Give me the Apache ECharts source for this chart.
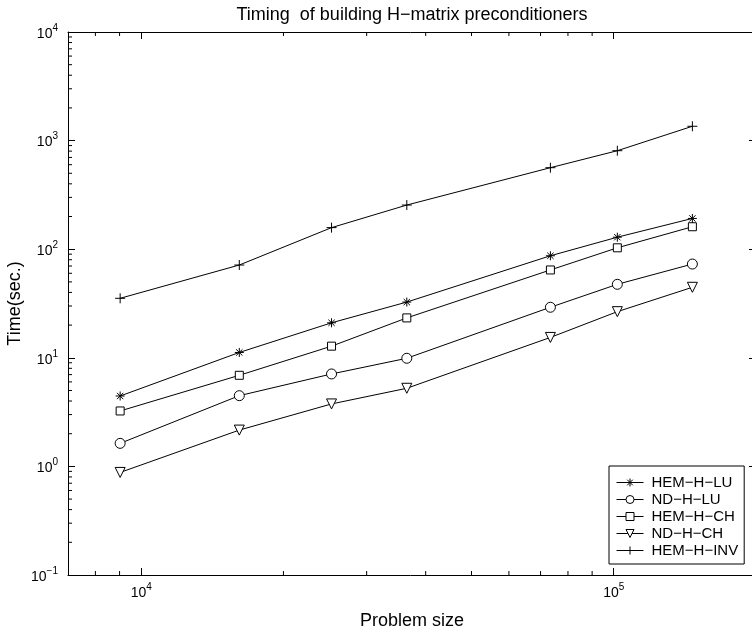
<!DOCTYPE html>
<html>
<head>
<meta charset="utf-8">
<script src="https://cdn.jsdelivr.net/npm/echarts@6/dist/echarts.min.js"></script>
<style>
  html, body { margin: 0; padding: 0; background: #fff; }
  #chart { width: 752px; height: 637px; }
</style>
</head>
<body>
<div id="chart"></div>
<script>
// problem sizes (x) and timings in seconds (y)
var problemSize = [9025, 16129, 25281, 36481, 73441, 101761, 146689];
var hemHLU  = [4.45, 11.2, 21.0, 32.6, 87, 129, 192];
var ndHLU   = [1.63, 4.48, 7.1, 9.9, 29.2, 47.5, 73];
var hemHCH  = [3.24, 6.9, 12.8, 23.3, 64.4, 103, 161];
var ndHCH   = [0.88, 2.16, 3.76, 5.24, 15.4, 26.6, 44.6];
var hemHINV = [35.3, 71.5, 158, 255, 563, 807, 1355];

var seriesNames = ['HEM\u2212H\u2212LU', 'ND\u2212H\u2212LU', 'HEM\u2212H\u2212CH', 'ND\u2212H\u2212CH', 'HEM\u2212H\u2212INV'];
var xRange = [7000, 200000];
var yRange = [0.1, 10000];
var xMinorTicks = [8000, 9000, 20000, 30000, 40000, 50000, 60000, 70000, 80000, 90000];
var yMinorTicks = [];
for (var k = -1; k < 4; k++) {
  for (var m = 2; m <= 9; m++) yMinorTicks.push(m * Math.pow(10, k));
}

var font = "'Liberation Sans', Arial, Helvetica, sans-serif";

function powLabel(v) {
  var l = Math.log10(v);
  var e = Math.round(l);
  if (Math.abs(l - e) > 1e-6) return '';
  return '{b|10}{e|' + (e < 0 ? '\u2212' + (-e) : e) + '}';
}
var labelRich = {
  b: { fontSize: 14, fontFamily: font, color: '#000', verticalAlign: 'bottom' },
  e: { fontSize: 10, fontFamily: font, color: '#000', verticalAlign: 'top', padding: [0, 0, 8, 0] }
};

function baseAxis(type, pos, range, showLabel, margin) {
  return {
    type: 'log', logBase: 10, position: pos,
    min: range[0], max: range[1],
    axisLine: { onZero: false, lineStyle: { color: '#000', width: 1 } },
    axisTick: { inside: true, length: 7, lineStyle: { color: '#000', width: 1 } },
    splitLine: { show: false },
    axisLabel: {
      show: showLabel, margin: margin, formatter: powLabel, rich: labelRich,
      showMinLabel: type === 'y', showMaxLabel: type === 'y'
    }
  };
}

// minor ticks: [x, y, side]  side 0 = left edge, 1 = bottom edge, 2 = top edge
var minorData = [];
yMinorTicks.forEach(function (v) { minorData.push([problemSize[0], v, 0]); });
xMinorTicks.forEach(function (v) {
  minorData.push([v, 1, 1]);
  minorData.push([v, 1, 2]);
});

function lineSeries(name, values, symbol, size) {
  return {
    name: name, type: 'line',
    data: problemSize.map(function (x, i) { return [x, values[i]]; }),
    symbol: symbol, symbolSize: size, showAllSymbol: true,
    lineStyle: { color: '#000', width: 1 },
    itemStyle: { color: '#fff', borderColor: '#000', borderWidth: 1 },
    z: 3
  };
}

var chart = echarts.init(document.getElementById('chart'));
chart.setOption({
  animation: false,
  backgroundColor: '#fff',
  title: {
    text: 'Timing  of building H\u2212matrix preconditioners',
    left: 412, top: 6, textAlign: 'center', padding: 0,
    textStyle: { fontFamily: font, fontSize: 18, fontWeight: 'normal', color: '#000' }
  },
  grid: { left: 68, top: 32, width: 688, height: 543, outerBoundsMode: 'none', containLabel: false },
  xAxis: [
    Object.assign(baseAxis('x', 'bottom', xRange, true, 7), {
      name: 'Problem size', nameLocation: 'middle', nameGap: 37, nameMoveOverlap: false,
      nameTextStyle: { fontFamily: font, fontSize: 18, color: '#000' }
    }),
    baseAxis('x', 'top', xRange, false, 7)
  ],
  yAxis: [
    Object.assign(baseAxis('y', 'left', yRange, true, 10), {
      name: 'Time(sec.)', nameLocation: 'middle', nameGap: 44, nameMoveOverlap: false,
      nameTextStyle: { fontFamily: font, fontSize: 18, color: '#000' }
    }),
    baseAxis('y', 'right', yRange, false, 10)
  ],
  legend: {
    orient: 'vertical', left: 609, top: 466,
    data: seriesNames,
    itemWidth: 27, itemHeight: 10, itemGap: 2,
    padding: [9, 6, 6, 7],
    borderColor: '#000', borderWidth: 1, backgroundColor: '#fff',
    selectedMode: false,
    lineStyle: { width: 1, color: '#000' },
    itemStyle: { color: '#fff', borderColor: '#000', borderWidth: 1 },
    textStyle: { fontFamily: font, fontSize: 15, color: '#000', padding: [0, 0, 0, 3] }
  },
  series: [
    lineSeries(seriesNames[0], hemHLU, 'path://M5,0L5,10M0,5L10,5M1.5,1.5L8.5,8.5M8.5,1.5L1.5,8.5', 9),
    lineSeries(seriesNames[1], ndHLU, 'circle', 10),
    lineSeries(seriesNames[2], hemHCH, 'rect', 8),
    lineSeries(seriesNames[3], ndHCH, 'path://M0,0L10,0L5,8.66Z', 10),
    lineSeries(seriesNames[4], hemHINV, 'path://M5,0L5,10M0,5L10,5', 10),
    {
      type: 'custom', silent: true, clip: false, z: 2,
      data: minorData,
      renderItem: function (params, api) {
        var cs = params.coordSys;
        var p = api.coord([api.value(0), api.value(1)]);
        var side = api.value(2);
        var x1, y1, x2, y2;
        if (side === 0) { x1 = cs.x; y1 = p[1]; x2 = cs.x + 4; y2 = p[1]; }
        else if (side === 1) { x1 = p[0]; y1 = cs.y + cs.height; x2 = p[0]; y2 = y1 - 4; }
        else { x1 = p[0]; y1 = cs.y; x2 = p[0]; y2 = cs.y + 4; }
        return {
          type: 'line',
          shape: { x1: x1, y1: y1, x2: x2, y2: y2 },
          style: { stroke: '#000', lineWidth: 1 }
        };
      }
    }
  ]
});
</script>
</body>
</html>
